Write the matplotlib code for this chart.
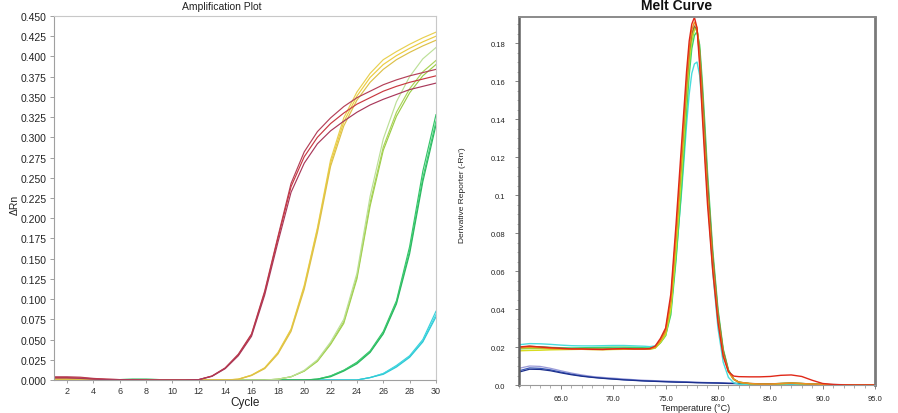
import matplotlib
matplotlib.use("Agg")
import matplotlib.pyplot as plt
from matplotlib.ticker import MultipleLocator

plt.rcParams['font.family'] = ['Liberation Sans', 'DejaVu Sans']

# ---------------- Amplification plot data ----------------
cycles = list(range(1, 31))

amp_red_a = [0.004, 0.004, 0.0035, 0.002, 0.001, 0.0005, 0.0002, 0, 0, 0, 0, 0.0005, 0.005, 0.015, 0.032,
             0.057, 0.110, 0.177, 0.243, 0.282, 0.307, 0.324, 0.338, 0.349, 0.357, 0.365, 0.371, 0.376, 0.380, 0.384]
amp_red_b = [0.003, 0.003, 0.0025, 0.0015, 0.001, 0.0005, 0.0002, 0, 0, 0, 0, 0.0005, 0.0048, 0.0145, 0.031,
             0.056, 0.108, 0.175, 0.239, 0.276, 0.300, 0.317, 0.330, 0.341, 0.349, 0.357, 0.363, 0.368, 0.372, 0.376]
amp_red_c = [0.0025, 0.0025, 0.002, 0.001, 0.0005, 0.0003, 0.0001, 0, 0, 0, 0, 0.0004, 0.0045, 0.014, 0.030,
             0.054, 0.105, 0.170, 0.232, 0.268, 0.292, 0.308, 0.320, 0.331, 0.340, 0.347, 0.353, 0.359, 0.363, 0.367]

amp_yel_a = [0.0015, 0.0015, 0.001, 0.0005, 0, 0, 0, 0, 0, 0, 0, 0, 0, 0, 0.001,
             0.006, 0.015, 0.034, 0.063, 0.117, 0.188, 0.272, 0.324, 0.356, 0.379, 0.396, 0.406, 0.415, 0.423, 0.430]
amp_yel_b = [0.001, 0.001, 0.0008, 0.0004, 0, 0, 0, 0, 0, 0, 0, 0, 0, 0, 0.001,
             0.006, 0.015, 0.033, 0.062, 0.115, 0.186, 0.268, 0.319, 0.351, 0.374, 0.390, 0.401, 0.410, 0.418, 0.425]
amp_yel_c = [0.001, 0.001, 0.0008, 0.0004, 0, 0, 0, 0, 0, 0, 0, 0, 0, 0, 0.0008,
             0.0055, 0.014, 0.032, 0.060, 0.112, 0.182, 0.264, 0.314, 0.346, 0.368, 0.384, 0.396, 0.405, 0.413, 0.420]

amp_lg_a = [0, 0, 0, 0, 0, 0.0005, 0.0005, 0.0005, 0, 0, 0, 0, 0, 0, 0,
            0, 0, 0.001, 0.004, 0.011, 0.023, 0.044, 0.070, 0.125, 0.215, 0.284, 0.326, 0.355, 0.376, 0.390]
amp_lg_b = [0, 0, 0, 0, 0, 0.0005, 0.0005, 0.0005, 0, 0, 0, 0, 0, 0, 0,
            0, 0, 0.001, 0.004, 0.011, 0.024, 0.045, 0.072, 0.128, 0.219, 0.288, 0.331, 0.360, 0.381, 0.395]
amp_lg_c = [0, 0, 0, 0, 0, 0.0005, 0.0005, 0.0005, 0, 0, 0, 0, 0, 0, 0,
            0, 0, 0.001, 0.004, 0.012, 0.025, 0.047, 0.075, 0.132, 0.227, 0.298, 0.344, 0.375, 0.397, 0.411]

amp_grn_a = [0, 0, 0, 0, 0, 0.0005, 0.0008, 0.0008, 0.0005, 0, 0, 0, 0, 0, 0,
             0, 0, 0, 0, 0, 0.001, 0.005, 0.012, 0.022, 0.036, 0.060, 0.098, 0.165, 0.258, 0.328]
amp_grn_b = [0, 0, 0, 0, 0, 0.0005, 0.0008, 0.0008, 0.0005, 0, 0, 0, 0, 0, 0,
             0, 0, 0, 0, 0, 0.001, 0.005, 0.012, 0.021, 0.035, 0.058, 0.096, 0.160, 0.250, 0.320]
amp_grn_c = [0, 0, 0, 0, 0, 0.0005, 0.0008, 0.0008, 0.0005, 0, 0, 0, 0, 0, 0,
             0, 0, 0, 0, 0, 0.001, 0.004, 0.011, 0.020, 0.034, 0.057, 0.094, 0.156, 0.245, 0.315]

amp_cya_a = [0, 0, 0, 0, 0, 0, 0, 0, 0, 0, 0, 0, 0, 0, 0,
             0, 0, 0, 0, 0, 0, 0, 0, 0, 0.003, 0.008, 0.018, 0.030, 0.050, 0.085]
amp_cya_b = [0, 0, 0, 0, 0, 0, 0, 0, 0, 0, 0, 0, 0, 0, 0,
             0, 0, 0, 0, 0, 0, 0, 0, 0, 0.003, 0.008, 0.017, 0.029, 0.048, 0.081]
amp_cya_c = [0, 0, 0, 0, 0, 0, 0, 0, 0, 0, 0, 0, 0, 0, 0,
             0, 0, 0, 0, 0, 0, 0, 0, 0, 0.003, 0.007, 0.016, 0.028, 0.047, 0.078]

amp_series = [
    (amp_cya_a, '#38d0dc'), (amp_cya_b, '#48dce4'), (amp_cya_c, '#30c8d4'),
    (amp_grn_a, '#34c468'), (amp_grn_b, '#44d078'), (amp_grn_c, '#2cb860'),
    (amp_lg_a, '#9ccc48'), (amp_lg_b, '#aad458'), (amp_lg_c, '#bce098'),
    (amp_yel_a, '#e8d050'), (amp_yel_b, '#eccc40'), (amp_yel_c, '#dcc048'),
    (amp_red_a, '#b44058'), (amp_red_b, '#c83840'), (amp_red_c, '#a8385a'),
]
amp_yticks = [i * 0.025 for i in range(19)]
amp_xticks = list(range(2, 31, 2))

# ---------------- Melt curve data ----------------
temps = [61, 62, 63, 64, 65, 66, 67, 68, 69, 70, 71, 72, 73,
         73.5, 74, 74.5, 75, 75.5, 76, 76.5, 76.75, 77, 77.25, 77.5, 77.75, 78, 78.25, 78.5, 78.75, 79,
         79.5, 80, 80.5, 81, 81.5, 82, 83, 84, 85, 86, 87, 88, 89, 90, 91, 92, 93, 94, 95]

melt_red = [0.0200, 0.0205, 0.0200, 0.0196, 0.0193, 0.0190, 0.0190, 0.0188, 0.0187, 0.0190, 0.0192, 0.0190, 0.0190,
            0.0192, 0.0205, 0.0245, 0.030, 0.048, 0.085, 0.125, 0.145, 0.165, 0.181, 0.190, 0.1935, 0.188, 0.168,
            0.142, 0.118, 0.095, 0.060, 0.033, 0.015, 0.007, 0.0047, 0.0044, 0.0043, 0.0043, 0.0045, 0.0051,
            0.0053, 0.0045, 0.0025, 0.0008, 0.0003, 0.0001, 0.0, 0.0, 0.0]
melt_orange = [0.0195, 0.0198, 0.0196, 0.0192, 0.0190, 0.0188, 0.0188, 0.0187, 0.0187, 0.0188, 0.0189, 0.0189, 0.0189,
               0.0190, 0.0198, 0.0232, 0.028, 0.044, 0.079, 0.119, 0.140, 0.160, 0.177, 0.187, 0.191, 0.188, 0.172,
               0.148, 0.123, 0.100, 0.063, 0.035, 0.016, 0.007, 0.003, 0.0015, 0.0008, 0.0005, 0.0005, 0.0008,
               0.0010, 0.0008, 0.0005, 0.0003, 0.0002, 0.0001, 0.0, 0.0, 0.0]
melt_yellow = [0.0180, 0.0182, 0.0183, 0.0185, 0.0186, 0.0187, 0.0188, 0.0187, 0.0186, 0.0187, 0.0188, 0.0188, 0.0188,
               0.0189, 0.0195, 0.0225, 0.027, 0.041, 0.074, 0.113, 0.134, 0.155, 0.172, 0.183, 0.188, 0.187, 0.174,
               0.151, 0.127, 0.103, 0.065, 0.036, 0.017, 0.007, 0.003, 0.0015, 0.0008, 0.0005, 0.0005, 0.0007,
               0.0009, 0.0007, 0.0004, 0.0002, 0.0001, 0.0, 0.0, 0.0, 0.0]
melt_olive = [0.0198, 0.0203, 0.0201, 0.0197, 0.0193, 0.0191, 0.0190, 0.0189, 0.0189, 0.0190, 0.0191, 0.0190, 0.0190,
              0.0191, 0.0200, 0.0235, 0.029, 0.045, 0.080, 0.118, 0.138, 0.158, 0.175, 0.185, 0.189, 0.187, 0.176,
              0.155, 0.131, 0.107, 0.068, 0.038, 0.018, 0.0075, 0.003, 0.0015, 0.0008, 0.0006, 0.0006, 0.0008,
              0.0010, 0.0008, 0.0005, 0.0003, 0.0001, 0.0, 0.0, 0.0, 0.0]
melt_lgreen = [0.0190, 0.0192, 0.0192, 0.0190, 0.0189, 0.0188, 0.0189, 0.0190, 0.0190, 0.0191, 0.0190, 0.0189, 0.0189,
               0.0189, 0.0194, 0.0222, 0.026, 0.039, 0.070, 0.108, 0.128, 0.150, 0.168, 0.181, 0.187, 0.187, 0.177,
               0.156, 0.132, 0.108, 0.068, 0.038, 0.018, 0.0075, 0.003, 0.0014, 0.0007, 0.0005, 0.0005, 0.0007,
               0.0009, 0.0007, 0.0004, 0.0002, 0.0001, 0.0, 0.0, 0.0, 0.0]
melt_green = [0.0195, 0.0198, 0.0199, 0.0198, 0.0196, 0.0195, 0.0196, 0.0197, 0.0198, 0.0199, 0.0199, 0.0198, 0.0196,
              0.0195, 0.0198, 0.0222, 0.026, 0.037, 0.066, 0.102, 0.122, 0.144, 0.163, 0.177, 0.184, 0.186, 0.179,
              0.160, 0.137, 0.112, 0.071, 0.040, 0.019, 0.008, 0.0032, 0.0014, 0.0007, 0.0006, 0.0006, 0.0008,
              0.0010, 0.0008, 0.0005, 0.0003, 0.0001, 0.0, 0.0, 0.0, 0.0]
melt_cyan = [0.0212, 0.0218, 0.0217, 0.0214, 0.0210, 0.0207, 0.0206, 0.0206, 0.0207, 0.0208, 0.0208, 0.0206, 0.0204,
             0.0202, 0.0206, 0.0232, 0.027, 0.040, 0.068, 0.100, 0.118, 0.137, 0.153, 0.164, 0.169, 0.170, 0.163,
             0.146, 0.124, 0.100, 0.060, 0.030, 0.012, 0.004, 0.0012, 0.0004, 0.0002, 0.0001, 0.0001, 0.0001,
             0.0001, 0.0001, 0.0, 0.0, 0.0, 0.0, 0.0, 0.0, 0.0]

ntc_temps = list(range(61, 96))
ntc_a = [0.0088, 0.0100, 0.0098, 0.0088, 0.0075, 0.0063, 0.0053, 0.0045, 0.0040, 0.0036, 0.0032, 0.0028, 0.0025,
         0.0023, 0.0021, 0.0019, 0.0017, 0.0015, 0.0013, 0.0012, 0.0010, 0.0009, 0.0008, 0.0007, 0.0006, 0.0005,
         0.0005, 0.0004, 0.0004, 0.0003, 0.0003, 0.0002, 0.0002, 0.0001, 0.0001]
ntc_b = [0.0075, 0.0090, 0.0088, 0.0080, 0.0068, 0.0057, 0.0048, 0.0041, 0.0036, 0.0032, 0.0028, 0.0025, 0.0022,
         0.0020, 0.0018, 0.0016, 0.0015, 0.0013, 0.0012, 0.0011, 0.0009, 0.0008, 0.0007, 0.0006, 0.0005, 0.0005,
         0.0004, 0.0004, 0.0003, 0.0003, 0.0002, 0.0002, 0.0001, 0.0001, 0.0001]
ntc_c = [0.0068, 0.0083, 0.0082, 0.0075, 0.0064, 0.0054, 0.0046, 0.0040, 0.0035, 0.0031, 0.0027, 0.0024, 0.0021,
         0.0019, 0.0017, 0.0015, 0.0014, 0.0012, 0.0011, 0.0010, 0.0008, 0.0007, 0.0006, 0.0005, 0.0005, 0.0004,
         0.0004, 0.0003, 0.0003, 0.0002, 0.0002, 0.0001, 0.0001, 0.0001, 0.0]

melt_series = [
    (melt_cyan, '#48dcdc'), (melt_green, '#3cd068'), (melt_lgreen, '#8ce040'),
    (melt_yellow, '#d8dc20'), (melt_olive, '#8c6c3c'), (melt_orange, '#f09020'), (melt_red, '#e02818'),
]
ntc_series = [(ntc_a, '#9a9ad8'), (ntc_b, '#3a58b8'), (ntc_c, '#1c2f8c')]

melt_yticks = [0.0, 0.02, 0.04, 0.06, 0.08, 0.1, 0.12, 0.14, 0.16, 0.18]
melt_ytick_labels = ['0.0', '0.02', '0.04', '0.06', '0.08', '0.1', '0.12', '0.14', '0.16', '0.18']
melt_xticks = [65.0, 70.0, 75.0, 80.0, 85.0, 90.0, 95.0]

# ---------------- Figure ----------------
fig = plt.figure(figsize=(8.98, 4.14), dpi=100)
fig.patch.set_facecolor('white')

# Left: amplification
ax1 = fig.add_axes([0.0600, 0.0797, 0.4255, 0.8793])
for vals, col in amp_series:
    ax1.plot(cycles, vals, color=col, lw=0.85, solid_joinstyle='round')
ax1.set_xlim(1, 30)
ax1.set_ylim(0, 0.45)
ax1.set_yticks(amp_yticks)
ax1.set_yticklabels([f'{v:.3f}' for v in amp_yticks])
ax1.set_xticks(amp_xticks)
ax1.tick_params(axis='y', labelsize=7.5, length=3, width=0.6, color='#909090', pad=2, labelcolor='#222222')
ax1.tick_params(axis='x', labelsize=6.5, length=2.5, width=0.6, color='#909090', pad=1.5, labelcolor='#333333')
for s in ax1.spines.values():
    s.set_color('#c8c8c8')
    s.set_linewidth(0.8)
ax1.spines['left'].set_color('#a0a0a0')
ax1.spines['bottom'].set_color('#a0a0a0')
fig.text(222 / 898, 1 - 7 / 414, 'Amplification Plot', ha='center', va='center', fontsize=7.5, color='#222222')
fig.text(15 / 898, 1 - 205 / 414, 'ΔRn', ha='center', va='center', rotation=90, fontsize=7.5, color='#222222')
fig.text(245 / 898, 1 - 403 / 414, 'Cycle', ha='center', va='center', fontsize=8.5, color='#222222')

# Right: melt curve
ax2 = fig.add_axes([0.5780, 0.0676, 0.3964, 0.8889])
for vals, col in ntc_series:
    ax2.plot(ntc_temps, vals, color=col, lw=0.9)
for vals, col in melt_series:
    ax2.plot(temps, vals, color=col, lw=1.0, solid_joinstyle='round')
ax2.set_xlim(61, 95)
ax2.set_ylim(0, 0.1937)
ax2.set_yticks(melt_yticks)
ax2.set_yticklabels(melt_ytick_labels)
ax2.yaxis.set_minor_locator(MultipleLocator(0.005))
ax2.set_xticks(melt_xticks)
ax2.set_xticklabels([f'{v:.1f}' for v in melt_xticks])
ax2.xaxis.set_minor_locator(MultipleLocator(1.0))
ax2.tick_params(axis='both', which='major', labelsize=5.5, length=3, width=0.6, color='#707070', labelcolor='#222222')
ax2.tick_params(axis='y', which='major', pad=7)
ax2.tick_params(axis='x', which='major', pad=4)
ax2.tick_params(axis='both', which='minor', length=1.8, width=0.5, color='#909090')
ax2.spines['left'].set_color('#606060')
ax2.spines['left'].set_linewidth(1.8)
ax2.spines['right'].set_color('#7a7a7a')
ax2.spines['right'].set_linewidth(2.0)
ax2.spines['top'].set_color('#8a8a8a')
ax2.spines['top'].set_linewidth(1.4)
ax2.spines['bottom'].set_color('#9a9a9a')
ax2.spines['bottom'].set_linewidth(0.8)
fig.text(677 / 898, 1 - 6 / 414, 'Melt Curve', ha='center', va='center', fontsize=10, fontweight='bold', color='#111111')
fig.text(463 / 898, 1 - 195 / 414, "Derivative Reporter (-Rn')", ha='center', va='center', rotation=90,
         fontsize=6, color='#222222')
fig.text(696 / 898, 1 - 409 / 414, 'Temperature (°C)', ha='center', va='center', fontsize=6.5, color='#222222')

fig.savefig('out.png', dpi=100, facecolor='white')
